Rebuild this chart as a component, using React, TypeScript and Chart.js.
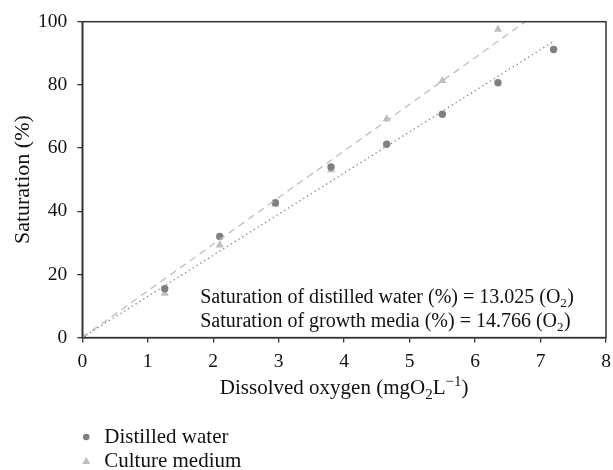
import React, { useEffect, useRef } from "react";
import { Chart, registerables } from "chart.js";

Chart.register(...registerables);

// Data
const distilledX = [0, 1.26, 2.1, 2.95, 3.8, 4.65, 5.5, 6.35, 7.2];
const distilledY = [0, 15.5, 32, 42.7, 54, 61.2, 70.7, 80.7, 91.2];
const cultureX = [0, 1.26, 2.1, 2.95, 3.8, 4.65, 5.5, 6.35];
const cultureY = [0, 14, 29.3, 42.2, 53.1, 69.2, 81.3, 97.6];
const distilledFitX = [0, 7.2];
const distilledFitY = [0, 93.78];
const cultureFitX = [0, 6.77];
const cultureFitY = [0, 100];
const seriesNames = ["Distilled water", "Culture medium"];
const annotationLines = [
  ["Saturation of distilled water (%) = 13.025 (O", "2", ")"],
  ["Saturation of growth media (%) = 14.766 (O", "2", ")"],
];
// x title pieces: [text, mode] where mode n = normal, b = subscript, p = superscript
const xTitleParts: [string, string][] = [
  ["Dissolved oxygen (mgO", "n"],
  ["2", "b"],
  ["L", "n"],
  ["\u22121", "p"],
  [")", "n"],
];
const xTitle = "Dissolved oxygen (mgO\u2082L\u207B\u00B9)";
const yTitle = "Saturation (%)";

const FONT = "'Liberation Serif', 'DejaVu Serif', serif";
const AXIS = "#333333";
const DARK = "#808080";
const LIGHT = "#bebebe";
const TXT = 20;
const BIG = 21;
const TICK = 19.5;

const toPts = (xs: number[], ys: number[]) => xs.map((x, i) => ({ x, y: ys[i] }));

const framePlugin = {
  id: "frameAndText",
  afterDraw(chart: any) {
    const { ctx, chartArea } = chart;
    ctx.save();
    ctx.strokeStyle = AXIS;
    ctx.lineWidth = 1.5;
    ctx.strokeRect(chartArea.left, chartArea.top, chartArea.right - chartArea.left, chartArea.bottom - chartArea.top);

    ctx.fillStyle = "#111";
    ctx.textBaseline = "alphabetic";
    ctx.textAlign = "left";

    // x axis title with real sub/superscripts
    const fontFor = (m: string) => (m === "n" ? `${BIG}px ${FONT}` : `15px ${FONT}`);
    let total = 0;
    xTitleParts.forEach(([t, m]) => {
      ctx.font = fontFor(m);
      total += ctx.measureText(t).width;
    });
    let tx = (chartArea.left + chartArea.right) / 2 - total / 2;
    const ty = chartArea.bottom + 56;
    xTitleParts.forEach(([t, m]) => {
      ctx.font = fontFor(m);
      const dy = m === "b" ? 5 : m === "p" ? -8 : 0;
      ctx.fillText(t, tx, ty + dy);
      tx += ctx.measureText(t).width;
    });

    // annotation text
    annotationLines.forEach((parts, i) => {
      let x = chartArea.left + 118;
      const y = chartArea.bottom - 35 + i * 24;
      ctx.font = `${TXT}px ${FONT}`;
      ctx.fillText(parts[0], x, y);
      x += ctx.measureText(parts[0]).width;
      ctx.font = `13px ${FONT}`;
      ctx.fillText(parts[1], x, y + 4);
      x += ctx.measureText(parts[1]).width + 0.5;
      ctx.font = `${TXT}px ${FONT}`;
      ctx.fillText(parts[2], x, y);
    });

    // legend
    const lx = chartArea.left + 4;
    const rows = [437, 461];
    ctx.fillStyle = DARK;
    ctx.beginPath();
    ctx.arc(lx, rows[0], 3.3, 0, Math.PI * 2);
    ctx.fill();
    ctx.fillStyle = LIGHT;
    ctx.beginPath();
    ctx.moveTo(lx, rows[1] - 4);
    ctx.lineTo(lx + 4, rows[1] + 3);
    ctx.lineTo(lx - 4, rows[1] + 3);
    ctx.closePath();
    ctx.fill();
    ctx.fillStyle = "#111";
    ctx.font = `${BIG}px ${FONT}`;
    seriesNames.forEach((n, i) => {
      ctx.fillText(n, lx + 18, rows[i] + 6);
    });
    ctx.restore();
  },
};

export default function App() {
  const ref = useRef<HTMLCanvasElement | null>(null);
  useEffect(() => {
    if (!ref.current) return;
    const chart = new Chart(ref.current, {
      type: "scatter",
      data: {
        datasets: [
          {
            label: "Distilled fit",
            data: toPts(distilledFitX, distilledFitY),
            showLine: true,
            borderColor: DARK,
            borderWidth: 1.3,
            borderDash: [1.3, 3.2],
            pointRadius: 0,
            fill: false,
          },
          {
            label: "Culture fit",
            data: toPts(cultureFitX, cultureFitY),
            showLine: true,
            borderColor: LIGHT,
            borderWidth: 1.3,
            borderDash: [7, 5],
            pointRadius: 0,
            fill: false,
          },
          {
            label: seriesNames[0],
            data: toPts(distilledX, distilledY),
            pointStyle: "circle",
            pointRadius: 3.7,
            backgroundColor: DARK,
            borderColor: DARK,
            borderWidth: 0,
          },
          {
            label: seriesNames[1],
            data: toPts(cultureX, cultureY),
            pointStyle: "triangle",
            pointRadius: 4.7,
            backgroundColor: LIGHT,
            borderColor: LIGHT,
            borderWidth: 0,
          },
        ],
      },
      options: {
        animation: false,
        responsive: false,
        devicePixelRatio: 1,
        layout: { padding: { left: 7, right: 7, top: 20, bottom: 69 } },
        plugins: { legend: { display: false }, tooltip: { enabled: false } },
        scales: {
          x: {
            type: "linear",
            min: 0,
            max: 8,
            afterFit: (scale: any) => {
              scale.paddingRight = 6;
            },
            ticks: { stepSize: 1, color: "#111", font: { family: FONT, size: TICK }, padding: 8 },
            grid: { drawOnChartArea: false, drawTicks: true, tickLength: 5, color: AXIS, lineWidth: 1.3 },
            border: { display: true, color: AXIS, width: 1.5 },
            title: { display: true, text: xTitle, color: "rgba(0,0,0,0)", font: { family: FONT, size: TXT }, padding: { top: -5, bottom: 0 } },
          },
          y: {
            type: "linear",
            min: 0,
            max: 100,
            ticks: { stepSize: 20, color: "#111", font: { family: FONT, size: TICK }, padding: 10 },
            grid: { drawOnChartArea: false, drawTicks: true, tickLength: 5, color: AXIS, lineWidth: 1.3 },
            border: { display: true, color: AXIS, width: 1.5 },
            title: { display: true, text: yTitle, color: "#111", font: { family: FONT, size: 22 }, padding: { top: 3, bottom: -8.4 } },
          },
        },
      },
      plugins: [framePlugin],
    });
    return () => chart.destroy();
  }, []);
  return (
    <div style={{ position: "absolute", left: 0, top: 0, width: 613, height: 470, background: "#fff" }}>
      <canvas ref={ref} width={613} height={470} style={{ width: 613, height: 470, display: "block" }} />
    </div>
  );
}
